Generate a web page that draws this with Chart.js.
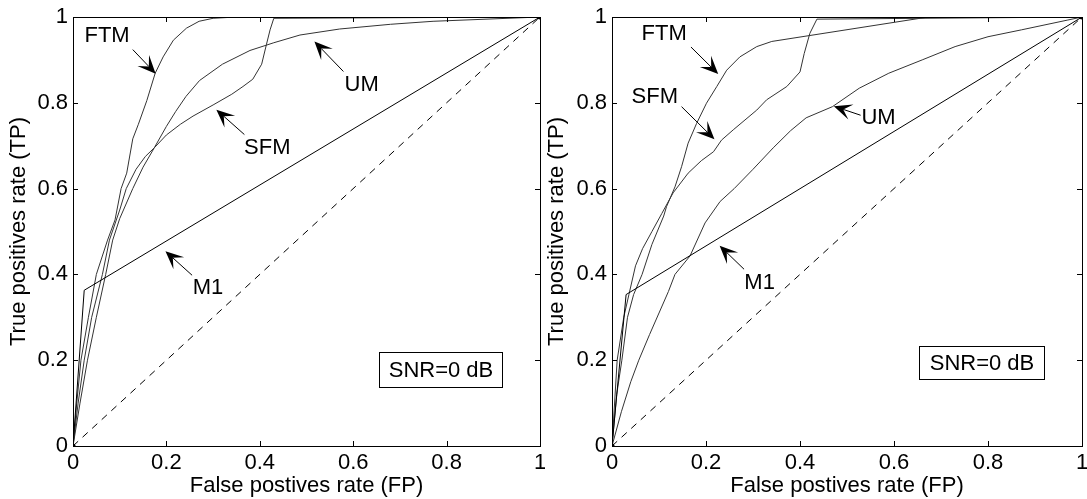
<!DOCTYPE html>
<html>
<head>
<meta charset="utf-8">
<script src="https://cdn.jsdelivr.net/npm/chart.js@4"></script>
<style>
  html, body { margin: 0; padding: 0; background: #fff; }
  #wrap { position: relative; width: 1087px; height: 499px; overflow: hidden; background: #fff; }
  canvas { position: absolute; top: 0; }
  #rocA { left: 0; }
  #rocB { left: 540px; }
</style>
</head>
<body>
<div id="wrap">
  <canvas id="rocA" width="545" height="499"></canvas>
  <canvas id="rocB" width="547" height="499"></canvas>
</div>
<script>
// ROC curves as [FP, TP] pairs
const axisTicks = [0, 0.2, 0.4, 0.6, 0.8, 1];
const chance = [[0, 0], [1, 1]];

// left panel
const ftmA = [[0, 0], [0.008, 0.1], [0.017, 0.2], [0.033, 0.3], [0.05, 0.4], [0.074, 0.48], [0.09, 0.527],
  [0.103, 0.6], [0.115, 0.636], [0.128, 0.716], [0.14, 0.75], [0.158, 0.805], [0.176, 0.869], [0.193, 0.907],
  [0.215, 0.946], [0.243, 0.974], [0.27, 0.99], [0.3, 0.997], [0.35, 1], [1, 1]];
const sfmA = [[0, 0], [0.011, 0.1], [0.024, 0.2], [0.04, 0.3], [0.063, 0.4], [0.078, 0.48], [0.1, 0.55],
  [0.114, 0.6], [0.135, 0.645], [0.155, 0.675], [0.174, 0.695], [0.2, 0.725], [0.23, 0.75], [0.257, 0.769],
  [0.3, 0.795], [0.34, 0.82], [0.364, 0.838], [0.385, 0.855], [0.404, 0.89], [0.414, 0.935], [0.422, 0.97],
  [0.43, 0.997], [1, 1]];
const umA = [[0, 0], [0.015, 0.1], [0.031, 0.2], [0.05, 0.3], [0.07, 0.4], [0.085, 0.48], [0.1, 0.53],
  [0.128, 0.6], [0.15, 0.65], [0.174, 0.695], [0.2, 0.745], [0.22, 0.78], [0.242, 0.815], [0.271, 0.852],
  [0.32, 0.89], [0.379, 0.922], [0.43, 0.94], [0.486, 0.958], [0.571, 0.972], [0.68, 0.983], [0.771, 0.99], [1, 1]];
const m1A = [[0, 0], [0.024, 0.363], [1, 1]];

// right panel
const ftmB = [[0, 0], [0.01, 0.12], [0.021, 0.2], [0.033, 0.3], [0.046, 0.353], [0.064, 0.4], [0.085, 0.47],
  [0.11, 0.536], [0.116, 0.558], [0.134, 0.604], [0.148, 0.651], [0.162, 0.706], [0.18, 0.752], [0.201, 0.799],
  [0.223, 0.838], [0.244, 0.876], [0.272, 0.907], [0.308, 0.931], [0.34, 0.943], [0.673, 1], [1, 1]];
const sfmB = [[0, 0], [0.011, 0.2], [0.025, 0.3], [0.036, 0.353], [0.05, 0.42], [0.065, 0.46], [0.085, 0.5],
  [0.106, 0.542], [0.13, 0.59], [0.162, 0.636], [0.19, 0.665], [0.216, 0.686], [0.233, 0.713], [0.258, 0.737],
  [0.308, 0.783], [0.329, 0.807], [0.372, 0.838], [0.4, 0.872], [0.409, 0.915], [0.421, 0.962], [0.436, 0.995], [1, 1]];
const umB = [[0, 0], [0.02, 0.08], [0.04, 0.15], [0.057, 0.2], [0.08, 0.26], [0.1, 0.31], [0.12, 0.36],
  [0.134, 0.4], [0.166, 0.443], [0.198, 0.52], [0.23, 0.57], [0.26, 0.6], [0.3, 0.645], [0.343, 0.695],
  [0.38, 0.735], [0.413, 0.765], [0.469, 0.791], [0.526, 0.834], [0.589, 0.869], [0.66, 0.9], [0.73, 0.931],
  [0.8, 0.954], [0.871, 0.97], [0.97, 0.993], [1, 1]];
const m1B = [[0, 0], [0.03, 0.353], [1, 1]];

const xTitle = 'False postives rate (FP)';
const yTitle = 'True positives rate (TP)';
const boxText = 'SNR=0 dB';

// label placement in axis units: text centre, arrow tail, arrow tip
const notesA = [
  { t: 'FTM', x: 0.073, y: 0.955, x0: 0.128, y0: 0.924, x1: 0.177, y1: 0.868 },
  { t: 'UM', x: 0.618, y: 0.842, x0: 0.579, y0: 0.873, x1: 0.517, y1: 0.943 },
  { t: 'SFM', x: 0.416, y: 0.695, x0: 0.367, y0: 0.726, x1: 0.307, y1: 0.784 },
  { t: 'M1', x: 0.289, y: 0.369, x0: 0.255, y0: 0.398, x1: 0.198, y1: 0.454 }
];
const notesB = [
  { t: 'FTM', x: 0.111, y: 0.961, x0: 0.168, y0: 0.93, x1: 0.226, y1: 0.867 },
  { t: 'SFM', x: 0.091, y: 0.814, x0: 0.148, y0: 0.791, x1: 0.218, y1: 0.715 },
  { t: 'UM', x: 0.567, y: 0.764, x0: 0.529, y0: 0.771, x1: 0.472, y1: 0.792 },
  { t: 'M1', x: 0.314, y: 0.38, x0: 0.281, y0: 0.412, x1: 0.229, y1: 0.467 }
];
const boxA = { x0: 0.656, x1: 0.919, y0: 0.138, y1: 0.219 };
const boxB = { x0: 0.653, x1: 0.919, y0: 0.157, y1: 0.233 };

const FONT = "'Liberation Sans', Arial, Helvetica, sans-serif";
const FSIZE = 22;
const TICK = 5;

const pts = arr => arr.map(([x, y]) => ({ x, y }));

function arrow(ctx, x0, y0, x1, y1) {
  const dx = x1 - x0, dy = y1 - y0, len = Math.hypot(dx, dy);
  const ux = dx / len, uy = dy / len, nx = -uy, ny = ux;
  const L = 18, W = 8;
  ctx.beginPath();
  ctx.moveTo(x0, y0);
  ctx.lineTo(x1 - ux * L * 0.55, y1 - uy * L * 0.55);
  ctx.stroke();
  ctx.beginPath();
  ctx.moveTo(x1, y1);
  ctx.lineTo(x1 - ux * L + nx * W, y1 - uy * L + ny * W);
  ctx.lineTo(x1 - ux * L * 0.55, y1 - uy * L * 0.55);
  ctx.lineTo(x1 - ux * L - nx * W, y1 - uy * L - ny * W);
  ctx.closePath();
  ctx.fill();
}

// box frame, inward ticks on all four sides, arrows and labels
function matlabLook(notes, box) {
  return {
    id: 'matlabLook',
    afterDatasetsDraw(chart) {
      const { ctx, chartArea: a, scales: { x, y } } = chart;
      ctx.save();
      ctx.strokeStyle = '#000';
      ctx.fillStyle = '#000';
      ctx.lineWidth = 1;
      ctx.beginPath();
      x.ticks.forEach(t => {
        const px = Math.round(x.getPixelForValue(t.value)) + 0.5;
        ctx.moveTo(px, a.bottom); ctx.lineTo(px, a.bottom - TICK);
        ctx.moveTo(px, a.top); ctx.lineTo(px, a.top + TICK);
      });
      y.ticks.forEach(t => {
        const py = Math.round(y.getPixelForValue(t.value)) + 0.5;
        ctx.moveTo(a.left, py); ctx.lineTo(a.left + TICK, py);
        ctx.moveTo(a.right, py); ctx.lineTo(a.right - TICK, py);
      });
      ctx.stroke();
      ctx.strokeRect(Math.round(a.left) + 0.5, Math.round(a.top) + 0.5,
        Math.round(a.right - a.left), Math.round(a.bottom - a.top));

      ctx.font = FSIZE + 'px ' + FONT;
      ctx.textAlign = 'center';
      ctx.textBaseline = 'middle';
      notes.forEach(n => {
        arrow(ctx, x.getPixelForValue(n.x0), y.getPixelForValue(n.y0),
          x.getPixelForValue(n.x1), y.getPixelForValue(n.y1));
        ctx.fillText(n.t, x.getPixelForValue(n.x), y.getPixelForValue(n.y));
      });

      const bx0 = Math.round(x.getPixelForValue(box.x0)) + 0.5;
      const bx1 = Math.round(x.getPixelForValue(box.x1)) + 0.5;
      const by0 = Math.round(y.getPixelForValue(box.y1)) + 0.5;
      const by1 = Math.round(y.getPixelForValue(box.y0)) + 0.5;
      ctx.fillStyle = '#fff';
      ctx.fillRect(bx0, by0, bx1 - bx0, by1 - by0);
      ctx.strokeRect(bx0, by0, bx1 - bx0, by1 - by0);
      ctx.fillStyle = '#000';
      ctx.fillText(boxText, (bx0 + bx1) / 2, (by0 + by1) / 2 + 1);
      ctx.restore();
    }
  };
}

function makeRoc(id, ftm, sfm, um, m1, notes, box, yAxisW, areaW, yTitlePad) {
  const curve = (label, data, color) => ({
    label, data: pts(data), borderColor: color, borderWidth: 1,
    pointRadius: 0, tension: 0, fill: false
  });
  return new Chart(document.getElementById(id), {
    type: 'line',
    data: {
      datasets: [
        {
          label: 'chance', data: pts(chance), borderColor: '#000', borderWidth: 1,
          borderDash: [7, 6], pointRadius: 2.5, pointBackgroundColor: '#000',
          pointBorderWidth: 0, fill: false
        },
        curve('M1', m1, '#000'),
        curve('UM', um, '#333'),
        curve('SFM', sfm, '#333'),
        curve('FTM', ftm, '#333')
      ]
    },
    options: {
      responsive: false,
      animation: false,
      devicePixelRatio: 1,
      layout: { padding: { top: 17, left: 0, bottom: 0, right: 0 } },
      plugins: { legend: { display: false }, tooltip: { enabled: false } },
      scales: {
        x: {
          type: 'linear', min: 0, max: 1,
          afterBuildTicks: s => { s.ticks = axisTicks.map(v => ({ value: v })); },
          ticks: { color: '#000', padding: 4, maxRotation: 0, autoSkip: false,
            font: { family: FONT, size: FSIZE }, callback: v => String(+v.toFixed(1)) },
          grid: { display: false, drawTicks: false },
          border: { display: false },
          title: { display: true, text: xTitle, color: '#000',
            font: { family: FONT, size: FSIZE }, padding: { top: 0, bottom: 0 } },
          afterFit: s => { s.height = 53; s.paddingLeft = 0; s.paddingRight = 0; }
        },
        y: {
          type: 'linear', min: 0, max: 1,
          afterBuildTicks: s => { s.ticks = axisTicks.map(v => ({ value: v })); },
          ticks: { color: '#000', padding: 5, autoSkip: false,
            font: { family: FONT, size: FSIZE }, callback: v => String(+v.toFixed(1)) },
          grid: { display: false, drawTicks: false },
          border: { display: false },
          title: { display: true, text: yTitle, color: '#000',
            font: { family: FONT, size: FSIZE }, padding: { top: yTitlePad, bottom: 0 } },
          afterFit: s => { s.width = yAxisW; s.paddingTop = 0; s.paddingBottom = 0; }
        }
      }
    },
    plugins: [matlabLook(notes, box), {
      id: 'fixRight',
      beforeLayout(chart) {
        chart.options.layout.padding.right = chart.width - yAxisW - areaW;
      }
    }]
  });
}

makeRoc('rocA', ftmA, sfmA, umA, m1A, notesA, boxA, 73, 467, 5.8);
makeRoc('rocB', ftmB, sfmB, umB, m1B, notesB, boxB, 72, 470, 3.3);
</script>
</body>
</html>
